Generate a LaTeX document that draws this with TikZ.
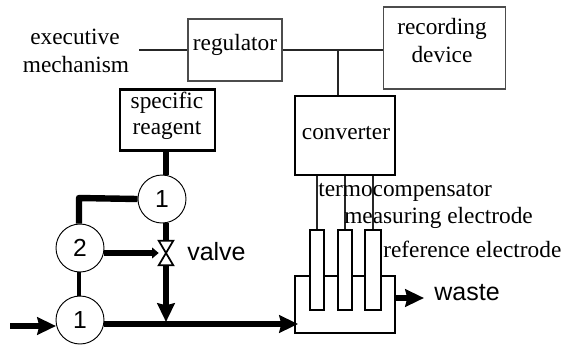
\documentclass[tikz,border=0pt]{standalone}
\usepackage{fontspec}
\setmainfont{Liberation Serif}
\newfontfamily\armfont{Liberation Sans}
\usetikzlibrary{arrows.meta}
\tikzset{
  box/.style={draw=black!70, line width=0.9pt, align=center, inner sep=0pt, font=\fontsize{17.5pt}{20pt}\selectfont},
  heavybox/.style={box, draw=black, line width=1.8pt},
  pump/.style={draw, circle, fill=white, line width=0.7pt, minimum size=36pt, inner sep=0pt, font=\armfont\fontsize{18.5pt}{20pt}\selectfont},
  wire/.style={line width=1pt, draw=black!85},
  pipe/.style={line width=4.8pt},
  flow/.style={pipe, -{Stealth[length=14pt, width=13pt, inset=1.5pt]}},
  tag/.style={inner sep=0pt, font=\fontsize{17.5pt}{20pt}\selectfont},
  armtag/.style={inner sep=0pt, font=\armfont\fontsize{18.75pt}{20pt}\selectfont}
}
\begin{document}
\begin{tikzpicture}[x=0.75pt, y=-0.75pt]
\useasboundingbox (0,0) rectangle (564,344);
% upper boxes
\node[box, minimum width=70.5pt, minimum height=46.5pt] (reg) at (235,50) {};
\node[tag] at (235,45) {regulator};
\node[box, minimum width=92pt, minimum height=61.5pt] (rec) at (444.5,48) {};
\node[tag] at (442,29) {recording};
\node[tag] at (442,55) {device};
\node[heavybox, minimum width=75pt, minimum height=59pt] (conv) at (345,135.5) {};
\node[tag] at (346,133) {converter};
\node[heavybox, minimum width=71pt, minimum height=46pt] (reag) at (167.5,120) {};
\node[tag] at (167,103) {specific};
\node[tag] at (167,130) {reagent};
\node[tag] at (75,37) {executive};
\node[tag] at (76,65) {mechanism};
\coordinate (exec) at (139,50);
\coordinate (tee) at (338,50);
\draw[wire] (exec) -- (reg.west);
\draw[wire] (reg.east) -- (reg.east -| rec.west);
\draw[wire] (tee) -- (tee |- conv.north);
% vessel and electrodes
\node[heavybox, line width=1.5pt, minimum width=75pt, minimum height=42.5pt] (vessel) at (344.5,304.5) {};
\node[draw, fill=white, line width=1.3pt, minimum width=10.5pt, minimum height=60pt, inner sep=0pt] (el1) at (317,270) {};
\node[draw, fill=white, line width=1.3pt, minimum width=10.5pt, minimum height=60pt, inner sep=0pt] (el2) at (345,270) {};
\node[draw, fill=white, line width=1.3pt, minimum width=12pt, minimum height=60pt, inner sep=0pt] (el3) at (373,270) {};
\draw[wire] (el1.north) -- (el1.north |- conv.south);
\draw[wire] (el2.north) -- (el2.north |- conv.south);
\draw[wire] (el3.north) -- (el3.north |- conv.south);
\node[tag, anchor=west] at (318,192) {termocompensator};
\node[tag, anchor=west] at (344,218) {measuring electrode};
\node[tag, anchor=west] at (383,249) {reference electrode};
% pumps and pipes
\node[pump] (p1) at (162,199) {1};
\node[pump] (p2) at (80,248) {2};
\node[pump] (p3) at (80,320) {1};
\node[minimum width=10.5pt, minimum height=18pt, inner sep=0pt] (valve) at (166,253) {};
\node[armtag, anchor=west] at (187,252) {valve};
\node[armtag] at (467,293) {waste};
\coordinate (inlet) at (10,326);
\coordinate (inend) at (56,326);
\coordinate (mainstart) at (104,324);
\coordinate (mainend) at (298,324);
\coordinate (join) at (166,322);
\coordinate (corner) at (79,198);
\coordinate (wastestart) at (395,298);
\coordinate (wasteend) at (424,298);
\draw[pipe] (reag.south -| valve) -- (valve |- p1.north);
\draw[pipe] (valve |- p1.south) -- (valve.north);
\draw[flow] (valve.south) -- (join);
\draw[flow] (inlet) -- (inend);
\draw[flow] (mainstart) -- (mainend);
\draw[flow] (wastestart) -- (wasteend);
\draw[pipe, line join=round] (p1.west) -- (corner) -- (corner |- p2.north);
\draw[line width=3.6pt] (corner |- p2.south) -- (corner |- p3.north);
\draw[line width=4.5pt, -{Stealth[length=5pt, width=8pt, inset=0pt]}] (p2.east |- valve) -- (valve.west);
\draw[line width=1.3pt, fill=white] (valve.north west) -- (valve.north east) -- (valve.south west) -- (valve.south east) -- cycle;
\end{tikzpicture}
\end{document}
